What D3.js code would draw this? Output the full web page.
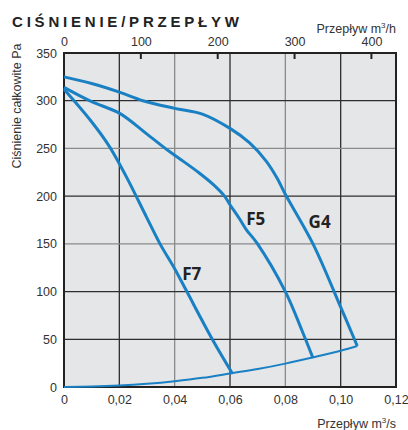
<!DOCTYPE html>
<html><head><meta charset="utf-8">
<script src="https://cdn.jsdelivr.net/npm/d3@7"></script>
<style>
html,body{margin:0;padding:0;background:#fff;}
svg{display:block;font-family:"Liberation Sans",Arial,sans-serif;}
</style></head><body>
<svg id="c" width="408" height="430"></svg>
<script>
// Data (flow m3/s, pressure Pa)
const g4Flow  = [0, 0.01, 0.02, 0.0285, 0.04, 0.05, 0.06, 0.067, 0.073, 0.077, 0.08, 0.09, 0.1004, 0.106];
const g4Press = [325, 318, 309, 300, 292, 286, 271, 256, 237, 219, 202, 150, 81, 43];
const f5Flow  = [0, 0.01, 0.02, 0.03, 0.038, 0.0419, 0.049, 0.054, 0.058, 0.06, 0.0635, 0.066, 0.0697, 0.08, 0.0859, 0.0899];
const f5Press = [314, 299, 287, 265, 247, 239, 224, 212, 200, 191, 176, 164.5, 151, 100, 60, 31];
const f7Flow  = [0, 0.0094, 0.0162, 0.0202, 0.0235, 0.03, 0.0347, 0.04, 0.0444, 0.0538, 0.0607];
const f7Press = [312, 280, 253, 233, 215, 177, 150, 124, 100, 49, 15];
const sysFlow  = [0, 0.01, 0.02, 0.03, 0.04, 0.05, 0.0607, 0.07, 0.08, 0.0899, 0.1, 0.106];
const sysPress = [0, 0.4, 1.5, 3.4, 6.1, 9.6, 14.5, 18.8, 24.5, 31, 38, 43];
const seriesNames = ["G4", "F5", "F7"];
const labelPos = [[0.0924, 167], [0.0693, 170], [0.0462, 112]];
const xTicks = [0, 0.02, 0.04, 0.06, 0.08, 0.10, 0.12];
const yTicks = [0, 50, 100, 150, 200, 250, 300, 350];
const topTicks = [0, 100, 200, 300, 400];
const gridGray = [0.04, 0.08];
const gridGrayY = [250, 150];

const svg = d3.select("#c");
const L = 64, R = 396, T = 53, B = 387;
const x = d3.scaleLinear().domain([0, 0.12]).range([L, R]);
const y = d3.scaleLinear().domain([0, 350]).range([B, T]);
const xTop = d3.scaleLinear().domain([0, 432]).range([L, R]);
const blue = "#1a80c4";

svg.append("rect").attr("x", L).attr("y", T).attr("width", R - L).attr("height", B - T).attr("fill", "#e5e6e8");

// grid
svg.append("g").selectAll("line").data(xTicks.slice(1, -1)).join("line")
  .attr("x1", d => x(d)).attr("x2", d => x(d)).attr("y1", T).attr("y2", B)
  .attr("stroke", d => gridGray.some(g => Math.abs(g - d) < 1e-6) ? "#8a8a8a" : "#2e2e2e").attr("stroke-width", 1.3);
svg.append("g").selectAll("line").data(yTicks.slice(1, -1)).join("line")
  .attr("x1", L).attr("x2", R).attr("y1", d => y(d)).attr("y2", d => y(d))
  .attr("stroke", d => gridGrayY.includes(d) ? "#8a8a8a" : "#2e2e2e").attr("stroke-width", 1.3);

// frame
svg.append("rect").attr("x", L).attr("y", T).attr("width", R - L).attr("height", B - T)
  .attr("fill", "none").attr("stroke", "#222").attr("stroke-width", 2);

// axes
const fmt = d => d === 0 ? "0" : d3.format(".2f")(d).replace(".", ",");
const bottomAxis = svg.append("g").attr("transform", `translate(0,${B})`)
  .call(d3.axisBottom(x).tickValues(xTicks).tickFormat(fmt).tickSize(0).tickPadding(8));
const leftAxis = svg.append("g").attr("transform", `translate(${L},0)`)
  .call(d3.axisLeft(y).tickValues(yTicks).tickSize(0).tickPadding(7));
const topAxis = svg.append("g").attr("transform", `translate(0,${T})`)
  .call(d3.axisTop(xTop).tickValues(topTicks).tickSize(0).tickPadding(7));
[bottomAxis, leftAxis, topAxis].forEach(a => {
  a.select(".domain").remove();
  a.selectAll("text").attr("fill", "#333").attr("font-size", 12.5).attr("font-family", "Liberation Sans, Arial, sans-serif");
});
// top inward ticks
svg.append("g").selectAll("line").data(topTicks.slice(1)).join("line")
  .attr("x1", d => xTop(d)).attr("x2", d => xTop(d)).attr("y1", T).attr("y2", T + 6)
  .attr("stroke", "#222").attr("stroke-width", 2);

// curves
const line = d3.line().x(d => x(d[0])).y(d => y(d[1])).curve(d3.curveCatmullRom.alpha(0.5));
const zip = (a, b) => a.map((v, i) => [v, b[i]]);
const fans = [zip(g4Flow, g4Press), zip(f5Flow, f5Press), zip(f7Flow, f7Press)];
svg.append("g").selectAll("path").data(fans).join("path")
  .attr("d", line).attr("fill", "none").attr("stroke", blue).attr("stroke-width", 3)
  .attr("stroke-linejoin", "round");
svg.append("path").datum(zip(sysFlow, sysPress)).attr("d", line)
  .attr("fill", "none").attr("stroke", blue).attr("stroke-width", 2);

// series labels
svg.append("g").selectAll("text").data(seriesNames).join("text")
  .attr("x", (d, i) => x(labelPos[i][0])).attr("y", (d, i) => y(labelPos[i][1]))
  .attr("text-anchor", "middle").attr("font-family", "Open Sans, sans-serif").attr("font-weight", "bold")
  .attr("font-size", 17).attr("fill", "#222").text(d => d);

// titles
svg.append("text").attr("x", 12).attr("y", 27).attr("font-weight", "bold").attr("font-size", 15)
  .attr("fill", "#222").attr("textLength", 227).attr("lengthAdjust", "spacing").text("CIŚNIENIE/PRZEPŁYW");
const unitTop = svg.append("text").attr("x", 396).attr("y", 33).attr("text-anchor", "end").attr("font-size", 12.5).attr("fill", "#333");
unitTop.append("tspan").text("Przepływ m");
unitTop.append("tspan").attr("font-size", 8).attr("dy", -5).text("3");
unitTop.append("tspan").attr("dy", 5).text("/h");
const unitBot = svg.append("text").attr("x", 396).attr("y", 428).attr("text-anchor", "end").attr("font-size", 12.5).attr("fill", "#333");
unitBot.append("tspan").text("Przepływ m");
unitBot.append("tspan").attr("font-size", 8).attr("dy", -5).text("3");
unitBot.append("tspan").attr("dy", 5).text("/s");
svg.append("text").attr("transform", "translate(21,106) rotate(-90)").attr("text-anchor", "middle")
  .attr("font-size", 12.5).attr("fill", "#333").text("Ciśnienie całkowite Pa");
</script>
</body></html>
